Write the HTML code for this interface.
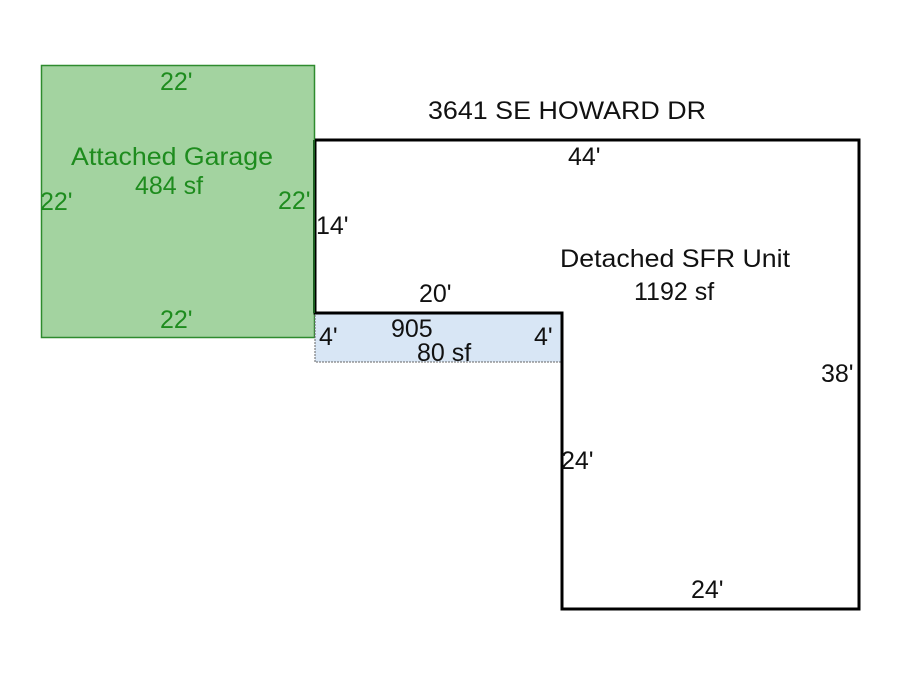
<!DOCTYPE html>
<html><head><meta charset="utf-8"><style>
html,body{margin:0;padding:0;background:#fff;}
svg{display:block;}
text{font-family:"Liberation Sans",Arial,sans-serif;font-size:25px;}
</style></head><body>
<svg width="900" height="675" viewBox="0 0 900 675" xmlns="http://www.w3.org/2000/svg">
<rect x="0" y="0" width="900" height="675" fill="#fff"/>
<rect x="41.5" y="65.5" width="273" height="272" fill="#a3d3a0" stroke="#2e8b2e" stroke-width="1.5"/>
<rect x="315" y="313" width="247" height="49" fill="#d8e6f5" stroke="#666" stroke-width="1" stroke-dasharray="2,1"/>
<polyline points="315,140 859,140 859,609 562,609 562,313 315,313 315,140" fill="none" stroke="#000" stroke-width="3"/>
<line x1="314" y1="140" x2="314" y2="313" stroke="#1b5e20" stroke-width="2"/>
<g fill="#1e8c1e">
<text x="160" y="90">22'</text>
<text x="71" y="165" textLength="202" lengthAdjust="spacingAndGlyphs">Attached Garage</text>
<text x="135" y="194">484 sf</text>
<text x="40" y="210">22'</text>
<text x="278" y="209">22'</text>
<text x="160" y="328">22'</text>
</g>
<g fill="#111">
<text x="428" y="119" textLength="278" lengthAdjust="spacingAndGlyphs">3641 SE HOWARD DR</text>
<text x="568" y="165">44'</text>
<text x="316" y="234">14'</text>
<text x="560" y="267" textLength="230" lengthAdjust="spacingAndGlyphs">Detached SFR Unit</text>
<text x="634" y="300">1192 sf</text>
<text x="419" y="302">20'</text>
<text x="319" y="345">4'</text>
<text x="391" y="337">905</text>
<text x="417" y="361">80 sf</text>
<text x="534" y="345">4'</text>
<text x="821" y="382">38'</text>
<text x="561" y="469">24'</text>
<text x="691" y="598">24'</text>
</g>
</svg>
</body></html>
